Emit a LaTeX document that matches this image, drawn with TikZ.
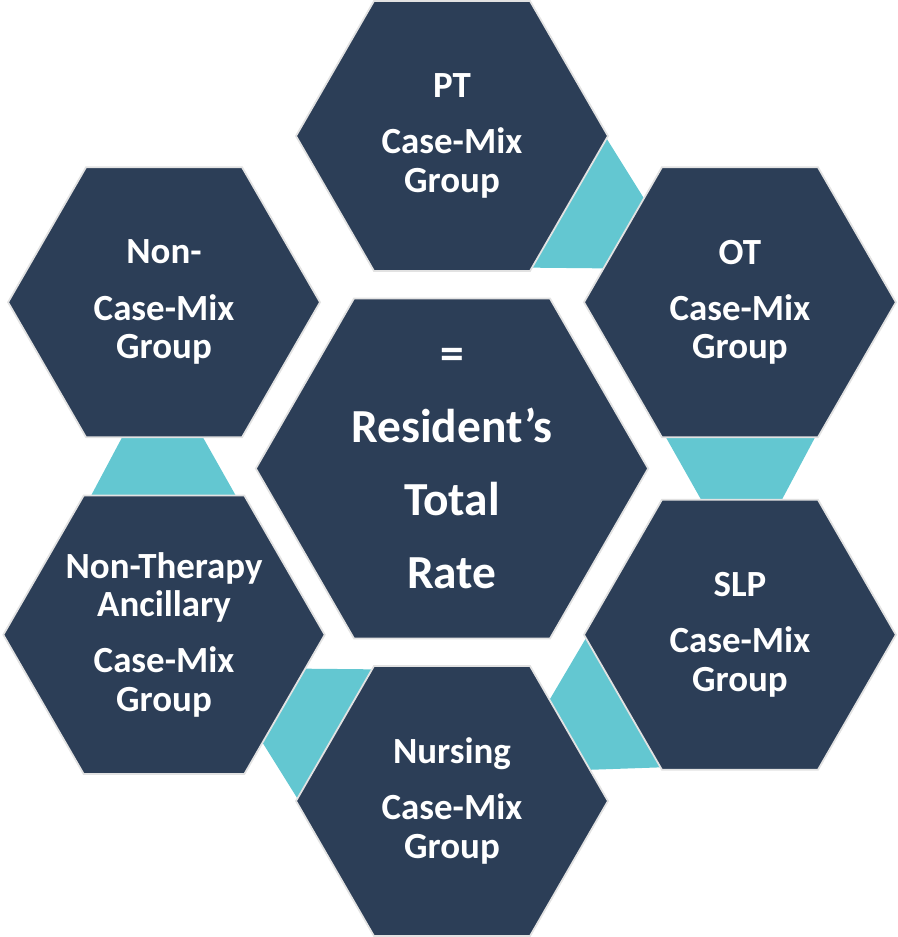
\documentclass[tikz,border=0pt]{standalone}
\usepackage{fontspec}
\setmainfont{Carlito}
\usepackage{xcolor}
\usepackage{tikz}
\usetikzlibrary{shapes.geometric}
\definecolor{navy}{RGB}{44,62,87}
\definecolor{tealband}{RGB}{99,199,209}
\definecolor{rim}{RGB}{226,226,226}

\tikzset{
  hexcell/.style={regular polygon, regular polygon sides=6, minimum size=6.24cm, inner sep=0pt,
    fill=navy, draw=rim, line width=1pt, text=white, align=center,
    font=\fontsize{21}{22}\selectfont\bfseries},
  hubcell/.style={hexcell, minimum size=7.64cm, font=\fontsize{27}{41.5}\selectfont\bfseries},
  joint/.style={fill=tealband}
}

\begin{document}
\begin{tikzpicture}[x=0.02cm, y=0.02cm]
    \useasboundingbox (-452,-468.5) rectangle (445,468.5);

    % Teal joints between neighbouring cells (drawn first, cells go on top)
    \fill[joint, rotate=60]  (214,31) -- (363,31) -- (330,-31) -- (249,-31) -- cycle;
    \fill[joint]             (214,31) -- (363,31) -- (330,-31) -- (249,-31) -- cycle;
    \fill[joint, rotate=-60] (214,31) -- (363,31) -- (330,-31) -- (249,-31) -- cycle;
    \fill[joint, rotate=-120](214,31) -- (363,31) -- (330,-31) -- (249,-31) -- cycle;
    \fill[joint, rotate=-180](214,31) -- (363,31) -- (330,-31) -- (249,-31) -- cycle;

    % Centre cell
    \node[hubcell] (hub) at (0,0) {=\\ Resident’s\\ Total\\ Rate};

    % Outer ring
    \node[hexcell] (pt)   at (90:332.5)  {PT\\[10pt] Case-Mix\\ Group};
    \node[hexcell] (ot)   at (30:332.5)  {OT\\[10pt] Case-Mix\\ Group};
    \node[hexcell] (slp)  at (-30:332.5) {SLP\\[10pt] Case-Mix\\ Group};
    \node[hexcell] (nurs) at (-90:332.5) {Nursing\\[10pt] Case-Mix\\ Group};
    \node[hexcell] (nta)  at (-150:332.5) {Non-Therapy\\ Ancillary\\[10pt] Case-Mix\\ Group};
    \node[hexcell] (ncm)  at (150:332.5) {Non-\\[10pt] Case-Mix\\ Group};
\end{tikzpicture}
\end{document}
